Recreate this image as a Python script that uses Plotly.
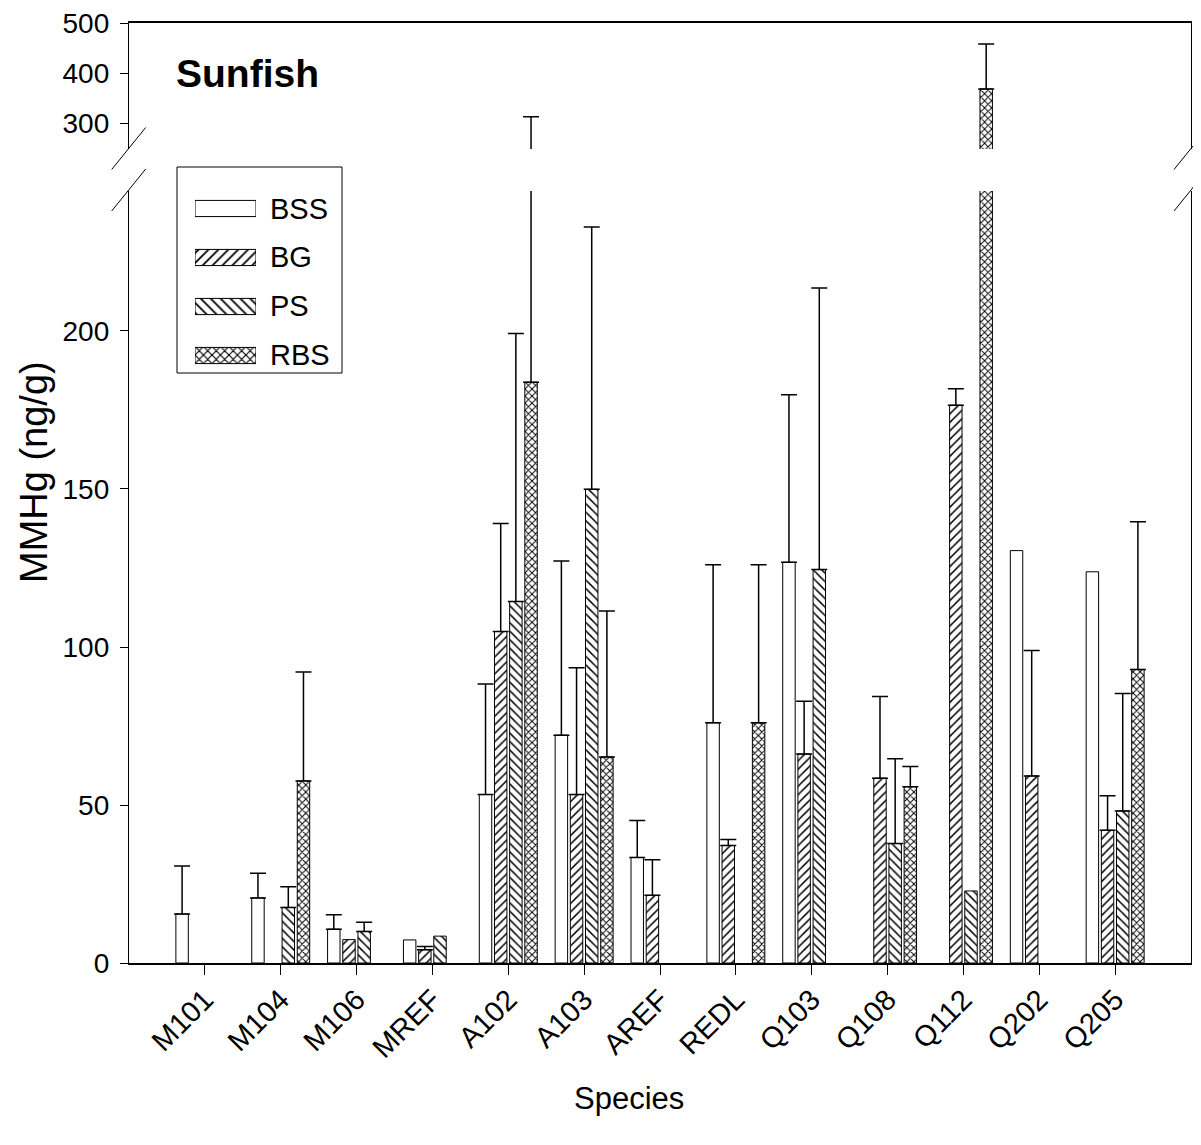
import plotly.graph_objects as go

# ---------------- data ----------------
categories = ["M101", "M104", "M106", "MREF", "A102", "A103", "AREF",
              "REDL", "Q103", "Q108", "Q112", "Q202", "Q205"]
series_names = ["BSS", "BG", "PS", "RBS"]

bss = [15.5, 20.6, 10.7, 7.3, 53.3, 72.1, 33.4, 76.0, 126.8, None, None, 130.5, 123.8]
bss_err = [15.2, 7.8, 4.6, None, 35.0, 55.1, 11.7, 50.0, 53.0, None, None, None, None]

bg = [None, None, 7.4, 4.2, 104.9, 53.3, 21.4, 37.2, 66.1, 58.5, 176.5, 59.2, 42.0]
bg_err = [None, None, None, 1.0, 34.2, 40.1, 11.3, 1.9, 16.7, 25.8, 5.2, 39.7, 10.9]

ps = [None, 17.6, 10.0, 8.5, 114.4, 149.9, None, None, 124.5, 37.8, 22.8, None, 48.1]
ps_err = [None, 6.5, 2.9, None, 84.8, 83.0, None, None, 89.1, 26.8, None, None, 37.2]

rbs = [None, 57.6, None, None, 183.8, 65.2, None, 76.0, None, 55.8, 368.6, None, 92.9]
rbs_err = [None, 34.5, None, None, 129.4, 46.2, None, 50.0, None, 6.4, 89.4, None, 46.7]

lower_ticks = [0, 50, 100, 150, 200]
upper_ticks = [300, 400, 500]

# ---------------- layout helpers ----------------
OFF = 8                      # page body margin
W, H = 1201 - OFF, 1145 - OFF
L, R, T, B = 129 - OFF, 10, 23 - OFF, 182
PW, PH = W - L - R, H - T - B
FONT = "Liberation Sans, Arial, sans-serif"


def pxx(sx):
    """screen x -> paper x"""
    return (sx - OFF - L) / PW


def pxy(sy):
    """screen y -> paper y"""
    return (H - B - (sy - OFF)) / PH


lower_dom = [0, pxy(191)]
upper_dom = [pxy(149), 1]

patterns = {"BSS": "", "BG": "/", "PS": "\\", "RBS": "x"}
psize = {"BSS": 6, "BG": 6, "PS": 6, "RBS": 5}
psol = {"BSS": 0.2, "BG": 0.25, "PS": 0.25, "RBS": 0.35}

fig = go.Figure()

data = [("BSS", bss, bss_err), ("BG", bg, bg_err), ("PS", ps, ps_err), ("RBS", rbs, rbs_err)]
for name, vals, errs in data:
    plus = [e if e is not None else "none" for e in errs]
    minus = [0 if e is not None else "none" for e in errs]
    for xa, ya in (("x", "y"), ("x2", "y2")):
        fig.add_trace(go.Bar(
            x=categories, y=vals, name=name, xaxis=xa, yaxis=ya, showlegend=False,
            marker=dict(color="white", line=dict(color="black", width=1),
                        pattern=dict(shape=patterns[name], size=psize[name],
                                     solidity=psol[name], fgcolor="black",
                                     bgcolor="white", fillmode="replace")),
            error_y=dict(type="data", symmetric=False, array=plus, arrayminus=minus,
                         color="black", thickness=1.5, width=8),
        ))

# legend swatches drawn as horizontal bars on a small helper axis
fig.add_trace(go.Bar(
    x=[1, 1, 1, 1], y=series_names, orientation="h", xaxis="x3", yaxis="y3",
    width=0.33, showlegend=False, hoverinfo="skip",
    marker=dict(color="white", line=dict(color="black", width=1),
                pattern=dict(shape=[patterns[n] for n in series_names],
                             size=[psize[n] + 1 for n in series_names],
                             solidity=[psol[n] for n in series_names],
                             fgcolor="black", bgcolor="white", fillmode="replace")),
))

axis_font = dict(family=FONT, size=28, color="black")
row = 49.0

fig.update_layout(
    width=W, height=H,
    margin=dict(l=L, r=R, t=T, b=B, pad=0, autoexpand=False),
    paper_bgcolor="white", plot_bgcolor="white",
    barmode="group", bargap=0.2, bargroupgap=0.18,
    font=dict(family=FONT, color="black"),
    xaxis=dict(type="category", domain=[0, 1], anchor="y", range=[-1, 13],
               automargin=False,
               showline=True, linecolor="black", linewidth=2.2,
               ticks="outside", ticklen=10, tickwidth=1.2, tickcolor="black",
               tickangle=-45, tickfont=dict(family=FONT, size=29, color="black"),
               ticklabelstandoff=-4,
               showgrid=False, zeroline=False),
    xaxis2=dict(type="category", domain=[0, 1], anchor="y2", matches="x", side="top",
                automargin=False,
                showline=True, linecolor="black", linewidth=1.6,
                showticklabels=False, ticks="", showgrid=False, zeroline=False),
    yaxis=dict(domain=lower_dom, anchor="x", range=[0, 244.3], automargin=False,
               tickvals=lower_ticks, ticks="outside", ticklen=8, tickwidth=1.2,
               tickcolor="black", tickfont=axis_font, ticklabelstandoff=5,
               ticklabeloverflow="allow",
               showline=True, mirror=True,
               linecolor="black", linewidth=1.3, showgrid=False, zeroline=False),
    yaxis2=dict(domain=upper_dom, anchor="x2", range=[249, 500], automargin=False,
                tickvals=upper_ticks, ticks="outside", ticklen=8, tickwidth=1.2,
                tickcolor="black", tickfont=axis_font, ticklabelstandoff=5,
                ticklabeloverflow="allow",
                showline=True, mirror=True,
                linecolor="black", linewidth=1.3, showgrid=False, zeroline=False),
    xaxis3=dict(domain=[pxx(195), pxx(256)], anchor="y3", range=[0, 1],
                visible=False, fixedrange=True),
    yaxis3=dict(domain=[pxy(355.5 + 0.3 * row), pxy(208.5 - 0.3 * row)], anchor="x3",
                type="category", categoryorder="array", categoryarray=series_names,
                range=[3.3, -0.3], visible=False, fixedrange=True),
)

shapes = []
# legend box
shapes.append(dict(type="rect", xref="paper", yref="paper",
                   x0=pxx(177), x1=pxx(342), y0=pxy(373), y1=pxy(167),
                   line=dict(color="black", width=1), fillcolor="white", layer="below"))
# axis break marks
for xc in (128.7, 1191):
    for yc in (148.5, 190):
        shapes.append(dict(type="line", xref="paper", yref="paper",
                           x0=pxx(xc - 17), y0=pxy(yc + 21),
                           x1=pxx(xc + 17), y1=pxy(yc - 21),
                           line=dict(color="black", width=1)))
fig.update_layout(shapes=shapes)

ann = []
ann.append(dict(text="<b>Sunfish</b>", xref="paper", yref="paper", x=pxx(174), y=pxy(73),
                xanchor="left", yanchor="middle", showarrow=False,
                font=dict(family=FONT, size=39, color="black")))
ann.append(dict(text="MMHg (ng/g)", xref="paper", yref="paper", x=pxx(34), y=pxy(472),
                xanchor="center", yanchor="middle", textangle=-90, showarrow=False,
                font=dict(family=FONT, size=38, color="black")))
ann.append(dict(text="Species", xref="paper", yref="paper", x=pxx(629), y=pxy(1098),
                xanchor="center", yanchor="middle", showarrow=False,
                font=dict(family=FONT, size=31, color="black")))
legend_y = [208.5, 257, 306, 355.5]
for name, yc in zip(series_names, legend_y):
    ann.append(dict(text=name, xref="paper", yref="paper", x=pxx(268), y=pxy(yc),
                    xanchor="left", yanchor="middle", showarrow=False,
                    font=dict(family=FONT, size=29, color="black")))
fig.update_layout(annotations=ann)

fig.write_html("out.html")
